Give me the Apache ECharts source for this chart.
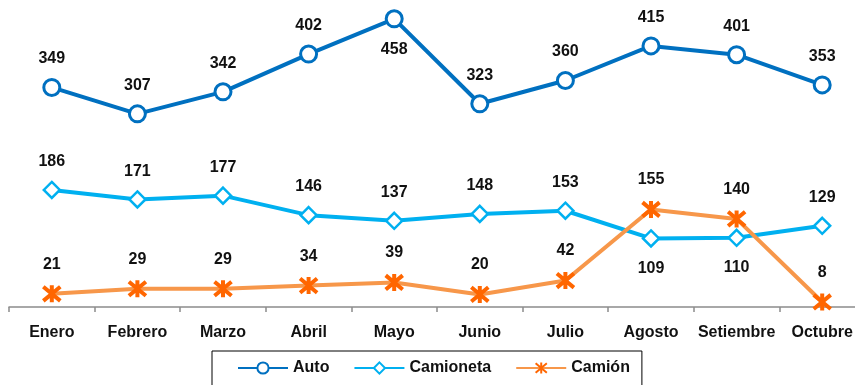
<!DOCTYPE html>
<html>
<head>
<meta charset="utf-8">
<script src="https://cdn.jsdelivr.net/npm/echarts@6/dist/echarts.min.js"></script>
<style>
  html, body { margin: 0; padding: 0; background: #fff; }
  #chart { width: 855px; height: 385px; }
</style>
</head>
<body>
<div id="chart"></div>
<script>
// Monthly counts per vehicle type
const months = ['Enero', 'Febrero', 'Marzo', 'Abril', 'Mayo', 'Junio', 'Julio', 'Agosto', 'Setiembre', 'Octubre'];
const auto = [349, 307, 342, 402, 458, 323, 360, 415, 401, 353];
const camioneta = [186, 171, 177, 146, 137, 148, 153, 109, 110, 129];
const camion = [21, 29, 29, 34, 39, 20, 42, 155, 140, 8];

// Months whose value label sits under the point instead of above it
const autoLabelBelow = ['Mayo'];
const camionetaLabelBelow = ['Agosto', 'Setiembre'];
const camionLabelBelow = [];

const FONT = '"Liberation Sans", Arial, sans-serif';
// six-pronged star marker: an X crossed by a vertical stroke
const starPath = 'path://M0,0L10,10M10,0L0,10M5,-1L5,11';

function withLabels(values, below) {
  return values.map((v, i) => below.includes(months[i])
    ? { value: v, label: { position: 'bottom', distance: 13 } }
    : v);
}

const labelStyle = {
  show: true,
  position: 'top',
  distance: 11,
  color: '#111',
  fontFamily: FONT,
  fontWeight: 'bold',
  fontSize: 16
};

const chart = echarts.init(document.getElementById('chart'), null, { renderer: 'canvas' });
chart.setOption({
  animation: false,
  backgroundColor: '#fff',
  // the plot runs past the right edge of the canvas, so the last band is cut
  grid: { left: 9, top: 5, width: 856, bottom: 78, outerBoundsMode: 'none', containLabel: false },
  xAxis: {
    type: 'category',
    data: months,
    boundaryGap: true,
    axisLine: { lineStyle: { color: '#8c8c8c', width: 1.5 } },
    axisTick: { show: true, length: 5, lineStyle: { color: '#8c8c8c', width: 1.5 } },
    axisLabel: { interval: 0, color: '#111', fontFamily: FONT, fontWeight: 'bold', fontSize: 16, margin: 18 }
  },
  yAxis: {
    type: 'value',
    min: 0,
    max: 480,
    show: false,
    splitLine: { show: false }
  },
  legend: {
    left: 212,
    top: 351,
    padding: [9, 12, 12, 25],
    borderColor: '#000',
    borderWidth: 1,
    itemWidth: 50,
    itemHeight: 14,
    itemGap: 24,
    textStyle: { color: '#111', fontFamily: FONT, fontWeight: 'bold', fontSize: 16 },
    data: ['Auto', 'Camioneta', 'Camión']
  },
  series: [
    {
      name: 'Auto',
      type: 'line',
      data: withLabels(auto, autoLabelBelow),
      symbol: 'circle',
      symbolSize: 16,
      lineStyle: { color: '#0070C0', width: 4 },
      itemStyle: { color: '#fff', borderColor: '#0070C0', borderWidth: 3 },
      label: labelStyle
    },
    {
      name: 'Camioneta',
      type: 'line',
      data: withLabels(camioneta, camionetaLabelBelow),
      symbol: 'diamond',
      symbolSize: 16,
      lineStyle: { color: '#00B0F0', width: 4 },
      itemStyle: { color: '#fff', borderColor: '#00B0F0', borderWidth: 2.5 },
      label: labelStyle
    },
    {
      name: 'Camión',
      type: 'line',
      data: withLabels(camion, camionLabelBelow),
      symbol: starPath,
      symbolSize: 17,
      lineStyle: { color: '#F7974A', width: 4 },
      itemStyle: { color: '#FF6600', borderColor: '#FF6600', borderWidth: 4 },
      label: labelStyle
    }
  ]
});
</script>
</body>
</html>
